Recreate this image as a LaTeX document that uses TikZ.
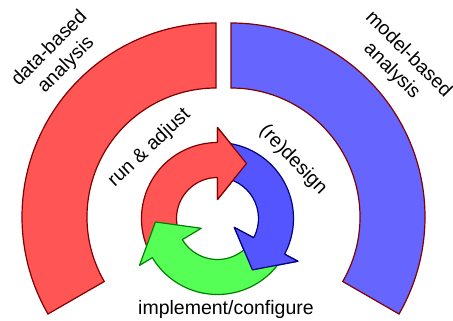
\documentclass[tikz,border=0pt]{standalone}
\usepackage{fontspec}
\setmainfont{Liberation Sans}
\usetikzlibrary{calc}

\definecolor{redfill}{RGB}{255,85,85}
\definecolor{bluefill}{RGB}{102,102,255}
\definecolor{smallblue}{RGB}{85,85,255}
\definecolor{greenfill}{RGB}{85,255,85}
\definecolor{darkred}{RGB}{128,0,0}
\definecolor{darkblue}{RGB}{0,0,128}
\definecolor{darkgreen}{RGB}{0,128,0}

\begin{document}
\begin{tikzpicture}[x=1pt,y=1pt,
			big arc/.style={draw=darkred,line width=1.2pt},
			small arc/.style={line width=1.2pt,line join=round},
			txt/.style={font=\fontsize{19.5}{23.5}\selectfont,align=center}]
			\useasboundingbox (0,0) rectangle (453,321);
			\coordinate (l) at (216,104);
			\coordinate (r) at (231,104);
			\coordinate (c) at (217.5,102.5);
			
			% the two big arcs
			\filldraw[big arc,fill=redfill] ($(l)+(90:194)$) arc[start angle=90,end angle=210,radius=194]
			-- ($(l)+(210:129)$) arc[start angle=210,end angle=90,radius=129] -- cycle;
			\filldraw[big arc,fill=bluefill] ($(r)+(90:194)$) arc[start angle=90,end angle=-30,radius=194]
			-- ($(r)+(-30:129)$) arc[start angle=-30,end angle=90,radius=129] -- cycle;
			
			% the cycle of three arrows
			\coordinate (t1) at ($(c)+(90:55)+(0:29)$);
			\coordinate (t2) at ($(c)+(-28:55)+(-118:29)$);
			\coordinate (t3) at ($(c)+(-149:55)+(-239:29)$);
			\filldraw[small arc,fill=redfill,draw=darkred] ($(c)+(206:76)$) arc[start angle=206,end angle=90,radius=76]
			-- ($(c)+(90:91)$) -- (t1) -- ($(c)+(90:19)$) -- ($(c)+(90:41)$)
			arc[start angle=90,end angle=206,radius=41] -- cycle;
			\filldraw[small arc,fill=smallblue,draw=darkblue] ($(c)+(85:76)$) arc[start angle=85,end angle=-28,radius=76]
			-- ($(c)+(-28:91)$) -- (t2) -- ($(c)+(-28:19)$) -- ($(c)+(-28:41)$)
			arc[start angle=-28,end angle=85,radius=41] -- cycle;
			\filldraw[small arc,fill=greenfill,draw=darkgreen] ($(c)+(-33:76)$) arc[start angle=-33,end angle=-149,radius=76]
			-- ($(c)+(-149:91)$) -- (t3) -- ($(c)+(-149:19)$) -- ($(c)+(-149:41)$)
			arc[start angle=-149,end angle=-33,radius=41] -- cycle;
			% heads again, on top of the next tail
			\fill[redfill] ($(c)+(90:91)$) -- (t1) -- ($(c)+(90:19)$) -- cycle;
			\draw[small arc,darkred] ($(c)+(90:76)$) -- ($(c)+(90:91)$) -- (t1) -- ($(c)+(90:19)$) -- ($(c)+(90:41)$);
			\fill[smallblue] ($(c)+(-28:91)$) -- (t2) -- ($(c)+(-28:19)$) -- cycle;
			\draw[small arc,darkblue] ($(c)+(-28:76)$) -- ($(c)+(-28:91)$) -- (t2) -- ($(c)+(-28:19)$) -- ($(c)+(-28:41)$);
			
			\node[txt,rotate=45] (1) at (58,264) {data-based\\analysis};
			\node[txt,rotate=-45] (2) at (400,258) {model-based\\analysis};
			\node[txt,rotate=43] (3) at (149.6,173) {run \& adjust};
			\node[txt,rotate=-46] (4) at (293,161) {(re)design};
			\node[txt,anchor=base] (5) at (226,6) {implement/configure};
		\end{tikzpicture}
\end{document}
